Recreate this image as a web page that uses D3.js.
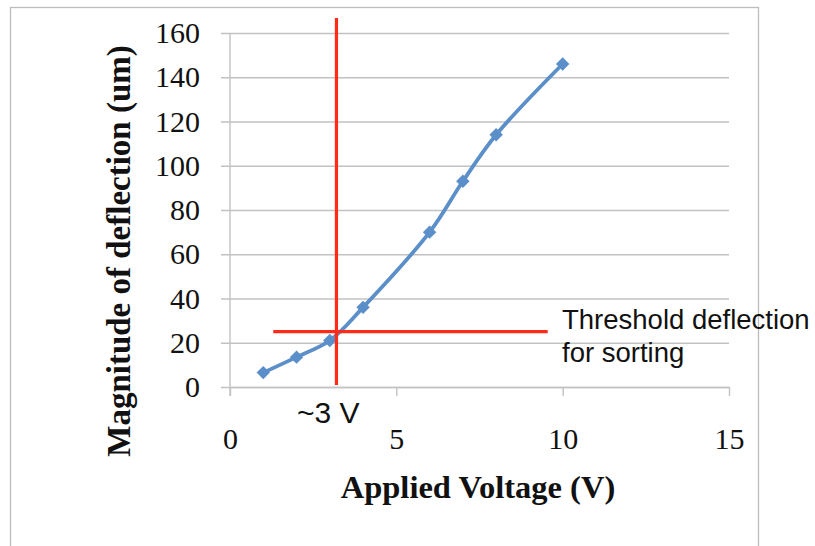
<!DOCTYPE html>
<html>
<head>
<meta charset="utf-8">
<script src="https://cdn.jsdelivr.net/npm/d3@7"></script>
<style>
	html, body { margin: 0; padding: 0; background: #fff; }
	svg { display: block; }
</style>
</head>
<body>
<div id="chart"></div>
<script>
// Data
var voltage = [ 1, 2, 3, 4, 6, 7, 8, 10 ];
var deflection = [ 6.5, 13.5, 21, 36, 70, 93, 114, 146 ];
var xTicks = [ 0, 5, 10, 15 ];
var yTicks = [ 0, 20, 40, 60, 80, 100, 120, 140, 160 ];
var thresholdVoltage = 3.2;
var thresholdDeflection = 25;
var thresholdSpan = [ 1.3, 9.55 ];
var thresholdLines = [ "Threshold deflection", "for sorting" ];
var voltageLabel = "~3 V";

var width = 815, height = 546;
var serif = "'Liberation Serif', 'DejaVu Serif', serif";
var sans = "'Liberation Sans', Arial, sans-serif";

var svg = d3.select( "#chart" ).append( "svg" )
	.attr( "width", width )
	.attr( "height", height );

// chart frame
svg.append( "rect" )
	.attr( "x", 10.5 ).attr( "y", 7.5 )
	.attr( "width", 748 ).attr( "height", 560 )
	.attr( "fill", "none" )
	.attr( "stroke", "#bdbdbd" )
	.attr( "stroke-width", 1.3 );

var x = d3.scaleLinear().domain( [ 0, 15 ] ).range( [ 230, 729 ] );
var y = d3.scaleLinear().domain( [ 0, 160 ] ).range( [ 387, 33 ] );

// horizontal grid + left ticks
var yAxis = svg.append( "g" )
	.attr( "transform", "translate(" + x( 15 ) + ",0)" )
	.call( d3.axisLeft( y ).tickValues( yTicks ).tickSize( x( 15 ) - x( 0 ) + 9 ).tickPadding( 11 ) );
yAxis.select( ".domain" ).remove();
yAxis.selectAll( ".tick line" ).attr( "stroke", "#c2c2c2" ).attr( "stroke-width", 1.4 );
yAxis.selectAll( ".tick text" )
	.attr( "font-family", serif )
	.attr( "font-size", 30 )
	.attr( "fill", "#111" )
	.attr( "x", -( x( 15 ) - 200 ) );

// x axis
var xAxis = svg.append( "g" )
	.attr( "transform", "translate(0," + y( 0 ) + ")" )
	.call( d3.axisBottom( x ).tickValues( xTicks ).tickSize( 9 ).tickSizeOuter( 0 ).tickPadding( 32 ) );
xAxis.select( ".domain" ).attr( "stroke", "#c2c2c2" ).attr( "stroke-width", 1.4 );
xAxis.selectAll( ".tick line" ).attr( "stroke", "#c2c2c2" ).attr( "stroke-width", 1.4 );
xAxis.selectAll( ".tick text" )
	.attr( "font-family", serif )
	.attr( "font-size", 30 )
	.attr( "fill", "#111" );

// y axis line
svg.append( "line" )
	.attr( "x1", x( 0 ) ).attr( "x2", x( 0 ) )
	.attr( "y1", y( 160 ) ).attr( "y2", y( 0 ) + 9 )
	.attr( "stroke", "#c2c2c2" ).attr( "stroke-width", 1.4 );

// axis titles
svg.append( "text" )
	.attr( "x", 478 ).attr( "y", 498 )
	.attr( "text-anchor", "middle" )
	.attr( "font-family", serif )
	.attr( "font-weight", "bold" )
	.attr( "font-size", 32.5 )
	.attr( "fill", "#111" )
	.text( "Applied Voltage (V)" );

svg.append( "text" )
	.attr( "transform", "translate(130,251) rotate(-90)" )
	.attr( "text-anchor", "middle" )
	.attr( "font-family", serif )
	.attr( "font-weight", "bold" )
	.attr( "font-size", 33 )
	.attr( "fill", "#111" )
	.text( "Magnitude of deflection (um)" );

// data series
var points = voltage.map( function( v, i ) { return { v: v, d: deflection[ i ] }; } );

var line = d3.line()
	.x( function( p ) { return x( p.v ); } )
	.y( function( p ) { return y( p.d ); } )
	.curve( d3.curveCatmullRom.alpha( 0.5 ) );

svg.append( "path" )
	.datum( points )
	.attr( "d", line )
	.attr( "fill", "none" )
	.attr( "stroke", "#5b8fc9" )
	.attr( "stroke-width", 3.8 );

svg.append( "g" )
	.selectAll( "path" )
	.data( points )
	.enter()
	.append( "path" )
	.attr( "transform", function( p ) { return "translate(" + x( p.v ) + "," + y( p.d ) + ")"; } )
	.attr( "d", d3.symbol( d3.symbolDiamond2, 115 ) )
	.attr( "fill", "#5b8fc9" );

// threshold lines
svg.append( "line" )
	.attr( "x1", x( thresholdVoltage ) ).attr( "x2", x( thresholdVoltage ) )
	.attr( "y1", 18 ).attr( "y2", 385 )
	.attr( "stroke", "#ff2a17" ).attr( "stroke-width", 3.2 );

svg.append( "line" )
	.attr( "x1", x( thresholdSpan[ 0 ] ) ).attr( "x2", x( thresholdSpan[ 1 ] ) )
	.attr( "y1", y( thresholdDeflection ) ).attr( "y2", y( thresholdDeflection ) )
	.attr( "stroke", "#ff2a17" ).attr( "stroke-width", 3.2 );

// annotations
svg.append( "text" )
	.attr( "x", 562 ).attr( "y", 329 )
	.attr( "font-family", sans )
	.attr( "font-size", 27.5 )
	.attr( "fill", "#111" )
	.selectAll( "tspan" )
	.data( thresholdLines )
	.enter()
	.append( "tspan" )
	.attr( "x", 562 )
	.attr( "dy", function( d, i ) { return i == 0 ? 0 : 33; } )
	.text( function( d ) { return d; } );

svg.append( "text" )
	.attr( "x", 297 ).attr( "y", 423 )
	.attr( "font-family", sans )
	.attr( "font-size", 30 )
	.attr( "fill", "#111" )
	.text( voltageLabel );
</script>
</body>
</html>
